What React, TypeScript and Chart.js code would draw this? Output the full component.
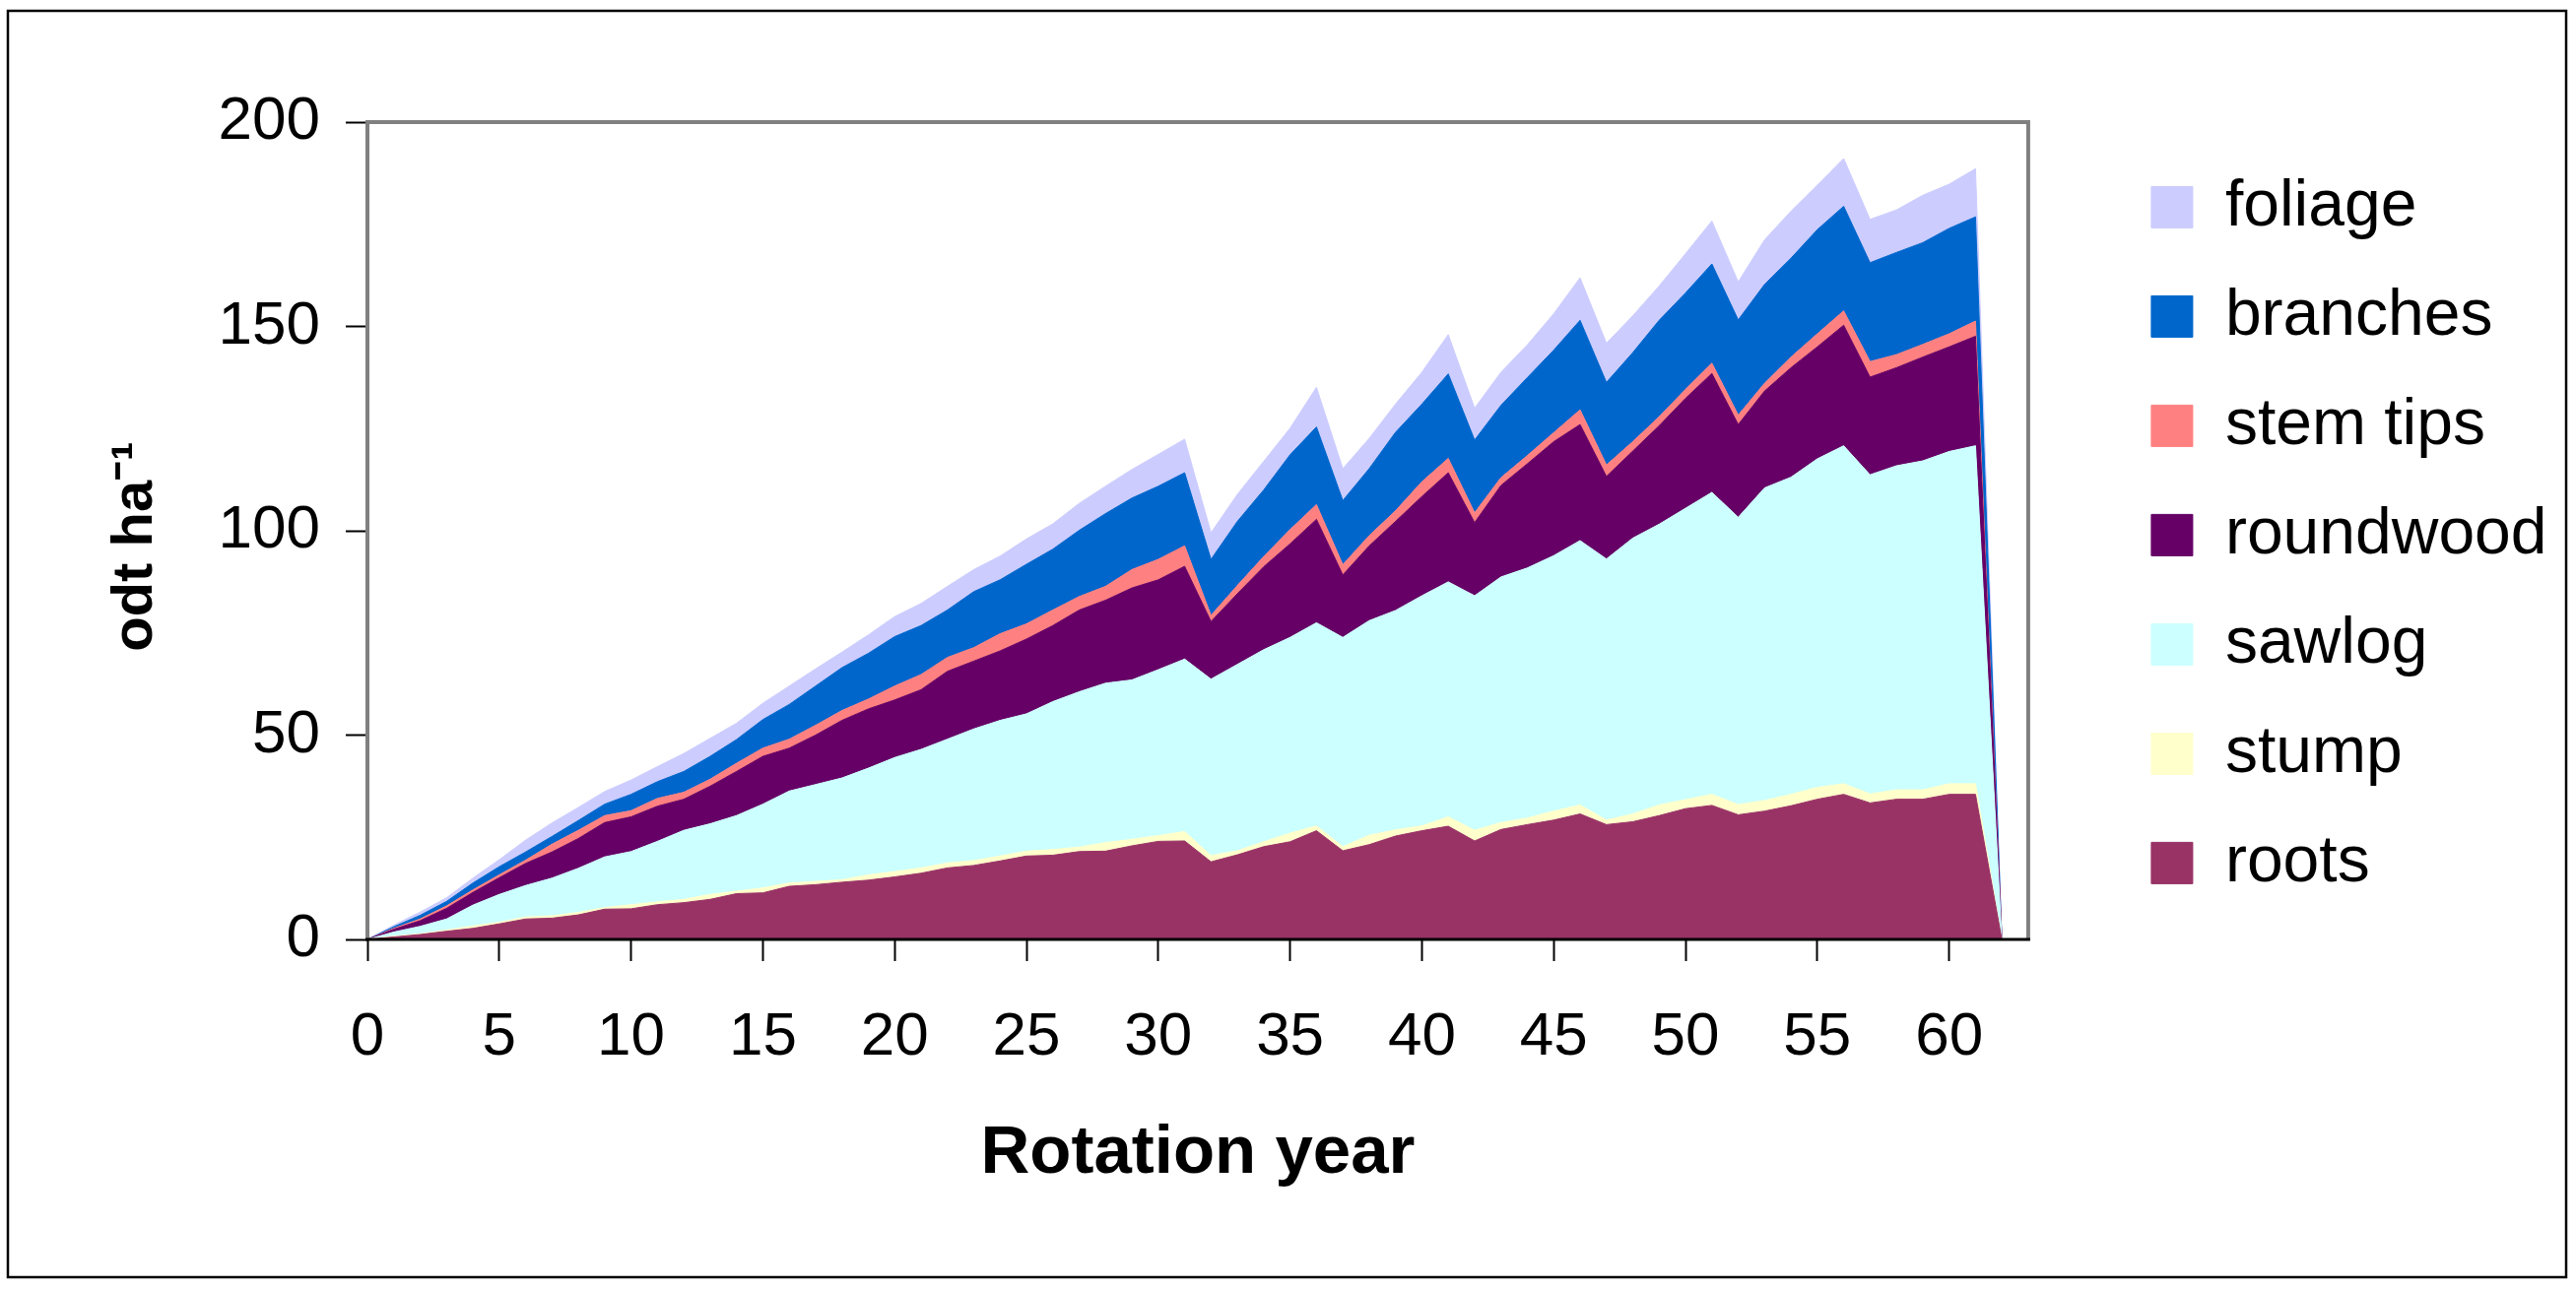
import React, { useEffect, useRef } from 'react';
import { Chart, registerables } from 'chart.js';

Chart.register(...registerables);

// Rotation year (categories)
const YEARS = [
  0, 1, 2, 3, 4, 5, 6, 7, 8, 9,
  10, 11, 12, 13, 14, 15, 16, 17, 18, 19,
  20, 21, 22, 23, 24, 25, 26, 27, 28, 29,
  30, 31, 32, 33, 34, 35, 36, 37, 38, 39,
  40, 41, 42, 43, 44, 45, 46, 47, 48, 49,
  50, 51, 52, 53, 54, 55, 56, 57, 58, 59,
  60, 61, 62,
];

// odt ha-1 per component (stacked bottom to top)
const ROOTS = [
  0, 0.6, 1.2, 2.0, 2.7, 3.8, 5.0, 5.2, 6.0, 7.4,
  7.5, 8.5, 9.0, 9.8, 11.2, 11.4, 13.0, 13.4, 14.0, 14.5,
  15.3, 16.2, 17.5, 18.1, 19.2, 20.4, 20.6, 21.5, 21.6, 22.9,
  24.0, 24.1, 19.0, 20.7, 22.7, 23.9, 26.6, 21.7, 23.2, 25.3,
  26.6, 27.7, 24.1, 26.9, 28.1, 29.2, 30.7, 28.1, 28.8, 30.3,
  32.0, 32.8, 30.5, 31.4, 32.7, 34.3, 35.5, 33.4, 34.3, 34.3,
  35.5, 35.5, 0,
];
const STUMP = [
  0, 0.2, 0.2, 0.3, 0.6, 0.4, 0.5, 0.6, 0.6, 0.4,
  1.0, 0.7, 0.8, 1.2, 0.6, 1.2, 0.8, 0.8, 0.6, 1.3,
  1.3, 1.3, 1.2, 1.2, 1.2, 1.2, 1.4, 1.1, 2.1, 1.6,
  1.4, 2.3, 1.5, 1.0, 1.2, 2.1, 1.2, 1.0, 2.3, 1.5,
  1.2, 2.3, 2.6, 1.7, 1.6, 2.2, 2.2, 1.1, 1.9, 2.6,
  2.2, 2.7, 2.5, 2.6, 2.8, 2.9, 2.6, 2.2, 2.3, 2.3,
  2.6, 2.6, 0,
];
const SAWLOG = [
  0, 1.0, 1.8, 2.7, 5.1, 6.8, 7.7, 9.2, 10.8, 12.4,
  13.0, 14.8, 16.9, 17.3, 18.5, 20.5, 22.5, 23.7, 24.9, 26.1,
  27.9, 29.0, 30.3, 32.2, 33.2, 33.6, 36.2, 38.0, 39.0, 39.0,
  40.6, 42.2, 43.2, 45.6, 47.0, 47.9, 49.7, 51.2, 52.5, 53.7,
  56.3, 57.5, 57.4, 60.1, 61.2, 62.5, 64.7, 63.9, 67.5, 68.7,
  71.3, 73.9, 70.3, 76.5, 77.6, 80.4, 82.7, 78.1, 79.3, 80.5,
  81.3, 82.7, 0,
];
const ROUNDWOOD = [
  0, 0.7, 1.4, 2.6, 3.1, 4.1, 5.4, 6.4, 7.3, 8.4,
  8.5, 8.6, 7.6, 9.2, 10.8, 11.7, 10.5, 12.1, 14.1, 14.5,
  14.1, 14.6, 16.6, 16.6, 17.0, 18.3, 18.6, 20.0, 20.3, 22.5,
  22.0, 22.7, 14.1, 17.3, 20.3, 22.9, 25.3, 15.3, 18.3, 21.8,
  24.3, 26.7, 17.9, 22.4, 25.5, 27.9, 28.4, 20.2, 21.3, 24.1,
  26.9, 29.1, 22.7, 23.7, 26.8, 27.4, 29.5, 23.9, 24.0, 25.4,
  25.6, 26.8, 0,
];
const STEM_TIPS = [
  0, 0.2, 0.4, 0.6, 0.6, 0.7, 0.8, 1.9, 2.0, 1.7,
  1.5, 1.9, 1.7, 1.7, 2.0, 2.0, 2.2, 2.4, 2.4, 2.4,
  3.4, 3.7, 3.4, 3.3, 4.2, 3.7, 3.8, 3.3, 3.4, 4.5,
  5.0, 5.0, 1.5, 2.0, 2.5, 3.5, 3.6, 2.5, 2.5, 2.6,
  3.6, 3.5, 2.4, 1.9, 2.0, 2.2, 3.6, 2.8, 2.3, 2.2,
  2.2, 2.5, 2.3, 1.9, 2.6, 3.2, 3.5, 3.8, 3.2, 3.1,
  3.2, 3.7, 0,
];
const BRANCHES = [
  0, 0.4, 0.9, 1.1, 1.7, 2.0, 2.0, 1.9, 2.4, 2.8,
  4.0, 4.1, 5.1, 5.6, 5.8, 7.0, 8.5, 9.6, 10.5, 11.2,
  12.1, 12.0, 11.6, 13.7, 13.2, 14.6, 14.9, 16.2, 17.8, 17.5,
  17.9, 17.9, 13.7, 15.7, 16.3, 18.3, 19.0, 15.7, 16.4, 19.2,
  19.0, 20.7, 17.8, 17.7, 19.1, 20.2, 21.9, 20.2, 21.8, 23.6,
  23.6, 24.3, 23.3, 24.2, 24.2, 25.5, 25.6, 24.2, 25.0, 24.9,
  25.8, 25.5, 0,
];
const FOLIAGE = [
  0, 0.4, 0.8, 0.9, 1.2, 1.7, 2.9, 3.3, 3.2, 3.1,
  3.5, 3.7, 4.4, 4.4, 4.0, 4.0, 4.5, 4.2, 3.8, 4.5,
  4.9, 5.4, 5.8, 5.4, 5.8, 6.2, 6.2, 6.6, 6.7, 7.0,
  7.8, 8.2, 6.5, 6.6, 7.0, 6.5, 9.7, 7.8, 7.4, 6.9,
  7.8, 9.6, 7.8, 8.1, 8.0, 8.9, 10.4, 9.6, 9.0, 8.4,
  9.6, 10.5, 9.3, 10.9, 11.5, 10.9, 11.7, 10.6, 10.4, 11.6,
  10.8, 11.8, 0,
];

const SERIES_LABELS = ['roots', 'stump', 'sawlog', 'roundwood', 'stem tips', 'branches', 'foliage'];
const SERIES_COLORS = ['#993366', '#FFFFCC', '#CCFFFF', '#660066', '#FF8080', '#0066CC', '#CCCCFF'];
const SERIES_VALUES = [ROOTS, STUMP, SAWLOG, ROUNDWOOD, STEM_TIPS, BRANCHES, FOLIAGE];

const X_MIN = 0;
const X_MAX = 63;
const X_STEP = 5;
const Y_MIN = 0;
const Y_MAX = 200;
const Y_STEP = 50;

const X_TITLE = 'Rotation year';
const Y_TITLE = 'odt ha\u207B\u00B9  ';

const FONT = '"Liberation Sans", Arial, Helvetica, sans-serif';

// layout constants
const PAD_LEFT = -200;
const PLOT_LEFT = 373;

const framePlugin = {
  id: 'frame',
  afterDatasetsDraw(chart: any) {
    const { ctx, chartArea } = chart;
    const { left, right, top, bottom } = chartArea;
    ctx.save();
    ctx.strokeStyle = '#808080';
    ctx.lineWidth = 4;
    ctx.beginPath();
    ctx.moveTo(left, bottom);
    ctx.lineTo(left, top);
    ctx.lineTo(right, top);
    ctx.lineTo(right, bottom);
    ctx.stroke();
    ctx.strokeStyle = '#000000';
    ctx.lineWidth = 3;
    ctx.beginPath();
    ctx.moveTo(left - 2, bottom);
    ctx.lineTo(right + 2, bottom);
    ctx.stroke();
    ctx.lineWidth = 2.5;
    ctx.strokeRect(8, 11, chart.width - 18, chart.height - 23);
    ctx.restore();
  },
};

export default function App() {
  const canvasRef = useRef<HTMLCanvasElement | null>(null);

  useEffect(() => {
    const canvas = canvasRef.current;
    if (!canvas) return;
    const datasets = SERIES_VALUES.map((vals, i) => ({
      label: SERIES_LABELS[i],
      data: YEARS.map((x, j) => ({ x, y: vals[j] })),
      backgroundColor: SERIES_COLORS[i],
      borderColor: SERIES_COLORS[i],
      borderWidth: 1,
      pointRadius: 0,
      tension: 0,
      fill: i === 0 ? 'origin' : '-1',
    }));

    const chart = new Chart(canvas, {
      type: 'line',
      data: { datasets: datasets as any },
      plugins: [framePlugin],
      options: {
        responsive: false,
        devicePixelRatio: 1,
        animation: false,
        events: [],
        layout: { padding: { left: PAD_LEFT, top: 124, right: 19.5, bottom: 96 } },
        font: { family: FONT },
        plugins: {
          tooltip: { enabled: false },
          legend: {
            display: true,
            position: 'right',
            align: 'start',
            reverse: true,
            title: {
              display: true,
              text: ' ',
              color: 'rgba(0,0,0,0)',
              font: { size: 7 },
              padding: { top: 0, bottom: 0 },
            },
            labels: {
              boxWidth: 42,
              boxHeight: 42,
              padding: 45,
              color: '#000000',
              font: { family: FONT, size: 66 },
            },
          },
          subtitle: {
            display: true,
            position: 'right',
            text: ' ',
            color: 'rgba(0,0,0,0)',
            font: { size: 10 },
            padding: { top: 68, bottom: 0 },
            weight: 100,
          } as any,
          title: { display: false },
        },
        scales: {
          x: {
            type: 'linear',
            min: X_MIN,
            max: X_MAX,
            border: { display: false },
            grid: {
              display: true,
              drawOnChartArea: false,
              drawTicks: true,
              tickLength: 22,
              tickWidth: 2,
              tickColor: '#000000',
            },
            ticks: {
              stepSize: X_STEP,
              includeBounds: false,
              autoSkip: false,
              maxRotation: 0,
              padding: 41,
              color: '#000000',
              font: { family: FONT, size: 62 },
            },
            title: {
              display: true,
              text: X_TITLE,
              color: '#000000',
              font: { family: FONT, size: 69, weight: 'bold' },
              padding: { top: 0, bottom: 0 },
            },
            afterFit: (scale: any) => {
              scale.height = 259;
            },
          },
          y: {
            type: 'linear',
            stacked: true,
            min: Y_MIN,
            max: Y_MAX,
            border: { display: false },
            grid: {
              display: true,
              drawOnChartArea: false,
              drawTicks: true,
              tickLength: 22,
              tickWidth: 2,
              tickColor: '#000000',
            },
            ticks: {
              stepSize: Y_STEP,
              padding: 26,
              color: '#000000',
              font: { family: FONT, size: 62 },
            },
            title: {
              display: true,
              text: Y_TITLE,
              color: '#000000',
              font: { family: FONT, size: 58, weight: 'bold' },
              padding: { top: 303, bottom: 0 },
            },
            afterFit: (scale: any) => {
              scale.width = PLOT_LEFT - PAD_LEFT;
            },
          },
        },
      } as any,
    });

    return () => {
      chart.destroy();
    };
  }, []);

  return (
    <div
      style={{
        position: 'absolute',
        left: 0,
        top: 0,
        width: 2615,
        height: 1309,
        background: '#ffffff',
        overflow: 'hidden',
      }}
    >
      <canvas
        ref={canvasRef}
        width={2615}
        height={1309}
        style={{ display: 'block', width: 2615, height: 1309 }}
      />
    </div>
  );
}
